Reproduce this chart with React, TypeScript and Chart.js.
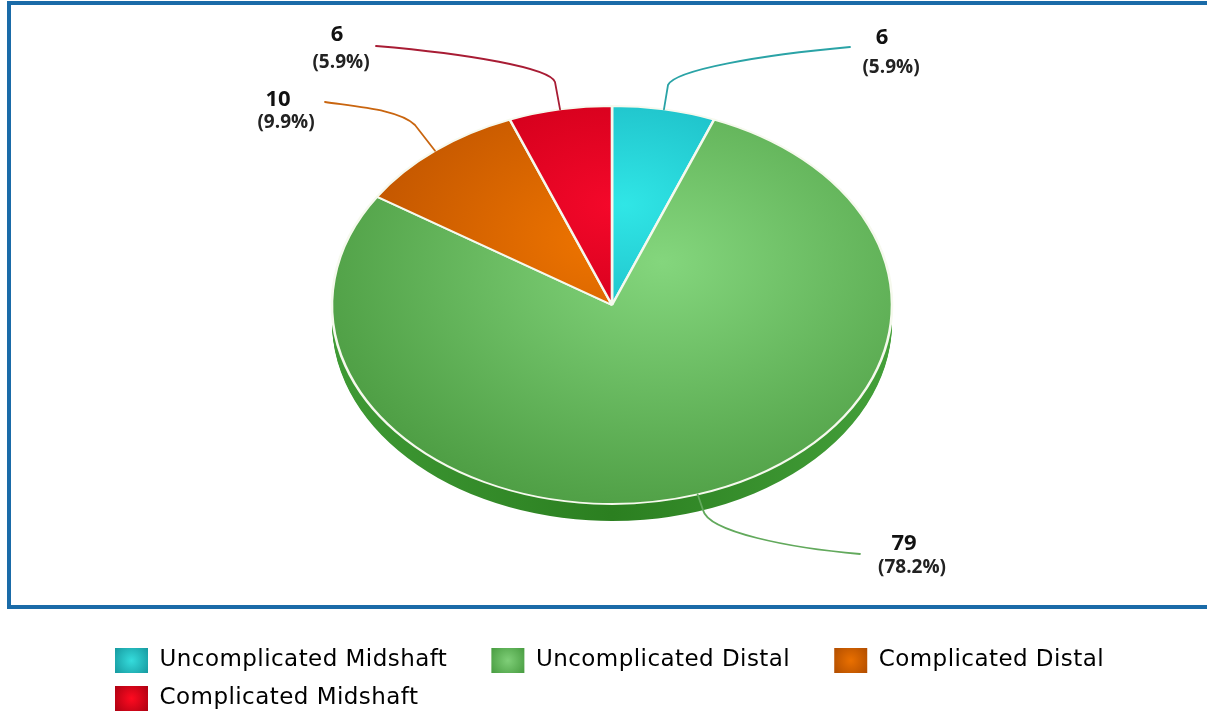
import React, { useEffect, useRef } from "react";
import { Chart, registerables } from "chart.js";

Chart.register(...registerables);

const categories = ["Uncomplicated Midshaft", "Uncomplicated Distal", "Complicated Distal", "Complicated Midshaft"];
const counts = [6, 79, 10, 6];
const percentLabels = ["(5.9%)", "(78.2%)", "(9.9%)", "(5.9%)"];

const lightColors = ["#30e6e6", "#84d67d", "#ee7400", "#f4082a"];
const darkColors = ["#20c4cc", "#4f9f45", "#c25600", "#d4001c"];
const leaderColors = ["#2aa3a6", "#62a95c", "#c9650f", "#a81c34"];
const legendLight = ["#35dcdc", "#7fcf78", "#ea7000", "#ff0a20"];
const legendDark = ["#128f96", "#3f9438", "#a84800", "#a00010"];

const CX = 612;
const CY = 305;
const RX = 280;
const RY = 199;
const DEPTH = 17;

// per-slice gradient focus on screen (px) and its radius
const glowLayout = [
  { at: [624, 205], r: 150 },
  { at: [662, 262], r: 355 },
  { at: [600, 240], r: 245 },
  { at: [612, 205], r: 170 },
];

// leader line: elbow, two bezier controls, end; label anchors (px)
const leaderLayout = [
  { elbow: [668, 85], c1: [675, 70], c2: [760, 55], end: [850, 47], valueAt: [882, 38], pctAt: [891, 68] },
  { elbow: [703, 510], c1: [708, 532], c2: [790, 548], end: [860, 554], valueAt: [904, 544], pctAt: [912, 568] },
  { elbow: [415, 125], c1: [400, 110], c2: [360, 107], end: [325, 102], valueAt: [278, 100], pctAt: [286, 123] },
  { elbow: [555, 82], c1: [550, 68], c2: [470, 54], end: [376, 46], valueAt: [337, 35], pctAt: [341, 63] },
];

const LEGEND_GAP = "\u00A0\u00A0\u00A0\u00A0";
const LEGEND_SPACING = "0.45px";

const placeArc = (ctx: CanvasRenderingContext2D, el: any, dy = 0) => {
  ctx.translate(CX, CY + dy);
  ctx.scale(1, RY / RX);
  ctx.translate(-el.x, -el.y);
};

const pieShape = {
  id: "pieShape",
  beforeLayout(chart: any) {
    chart.ctx.letterSpacing = LEGEND_SPACING;
  },
  beforeDraw(chart: any) {
    const ctx = chart.ctx;
    ctx.save();
    ctx.fillStyle = "#ffffff";
    ctx.fillRect(0, 0, chart.width, chart.height);
    ctx.strokeStyle = "#1a6ba8";
    ctx.lineWidth = 4;
    ctx.strokeRect(9, 3, chart.width + 20, 604);
    ctx.restore();
    ctx.letterSpacing = LEGEND_SPACING;
    const legend = chart.legend;
    legend.legendItems.forEach((item: any, i: number) => {
      const hit = legend.legendHitBoxes[i];
      const bw = legend.options.labels.boxWidth;
      const bh = legend.options.labels.boxHeight;
      const g = ctx.createRadialGradient(hit.left + bw / 2, hit.top + bh / 2, 0, hit.left + bw / 2, hit.top + bh / 2, bw * 0.72);
      g.addColorStop(0, legendLight[i]);
      g.addColorStop(1, legendDark[i]);
      item.fillStyle = g;
    });
  },
  beforeDatasetsDraw(chart: any) {
    const ctx = chart.ctx;
    ctx.letterSpacing = "0px";
    const arcs = chart.getDatasetMeta(0).data;
    const e0 = arcs[0];
    const g = ctx.createLinearGradient(e0.x - RX, 0, e0.x + RX, 0);
    g.addColorStop(0, "#3f9a35");
    g.addColorStop(0.5, "#2b7f20");
    g.addColorStop(1, "#44a03a");
    for (let dy = DEPTH; dy > 0; dy--) {
      arcs.forEach((el: any) => {
        const orig = el.options;
        el.options = { ...orig, backgroundColor: g, borderWidth: 0 };
        ctx.save();
        placeArc(ctx, el, dy);
        el.draw(ctx);
        ctx.restore();
        el.options = orig;
      });
    }
    ctx.save();
    placeArc(ctx, e0);
  },
  afterDatasetsDraw(chart: any) {
    const ctx = chart.ctx;
    ctx.restore();
    const arcs = chart.getDatasetMeta(0).data;
    arcs.forEach((el: any, i: number) => {
      const mid = (el.startAngle + el.endAngle) / 2;
      const ax = CX + RX * Math.cos(mid);
      const ay = CY + RY * Math.sin(mid);
      const lay = leaderLayout[i];
      ctx.save();
      ctx.strokeStyle = leaderColors[i];
      ctx.lineWidth = 1.8;
      ctx.lineCap = "round";
      ctx.beginPath();
      ctx.moveTo(ax, ay);
      ctx.lineTo(lay.elbow[0], lay.elbow[1]);
      ctx.bezierCurveTo(lay.c1[0], lay.c1[1], lay.c2[0], lay.c2[1], lay.end[0], lay.end[1]);
      ctx.stroke();
      ctx.fillStyle = "#111111";
      ctx.textAlign = "center";
      ctx.textBaseline = "middle";
      ctx.font = 'bold 22px "Open Sans"';
      ctx.fillText(String(counts[i]), lay.valueAt[0], lay.valueAt[1]);
      ctx.font = 'bold 19px "Open Sans"';
      ctx.fillStyle = "#222222";
      ctx.fillText(percentLabels[i], lay.pctAt[0], lay.pctAt[1]);
      ctx.restore();
    });
  },
};

export default function App() {
  const ref = useRef<HTMLCanvasElement | null>(null);
  useEffect(() => {
    if (!ref.current) return;
    const chart = new Chart(ref.current, {
      type: "pie",
      data: {
        labels: categories,
        datasets: [
          {
            data: counts,
            clip: false,
            borderColor: "#f6f9ee",
            borderWidth: 2.6,
            backgroundColor: (c: any) => {
              const area = c.chart.chartArea;
              const i = c.dataIndex;
              if (!area) return lightColors[i];
              const x = (area.left + area.right) / 2 + (glowLayout[i].at[0] - CX);
              const y = (area.top + area.bottom) / 2 + ((glowLayout[i].at[1] - CY) * RX) / RY;
              const g = c.chart.ctx.createRadialGradient(x, y, 0, x, y, glowLayout[i].r);
              g.addColorStop(0, lightColors[i]);
              g.addColorStop(1, darkColors[i]);
              return g;
            },
          } as any,
        ],
      },
      options: {
        responsive: false,
        animation: false,
        radius: RX,
        rotation: 0,
        layout: { padding: { left: 102, right: 0, top: 0, bottom: -6 } },
        plugins: {
          tooltip: { enabled: false },
          legend: {
            position: "bottom",
            align: "start",
            labels: {
              boxWidth: 33,
              boxHeight: 25,
              padding: 13,
              color: "#45454d",
              font: { family: '"DejaVu Sans"', size: 23 },
              generateLabels: () =>
                categories.map((text, i) => ({
                  text: text + LEGEND_GAP,
                  fillStyle: legendLight[i],
                  strokeStyle: "transparent",
                  lineWidth: 0,
                  hidden: false,
                  index: i,
                })),
            },
          },
        },
      } as any,
      plugins: [pieShape],
    });
    return () => chart.destroy();
  }, []);
  return (
    <div style={{ position: "absolute", left: 0, top: 0, width: 1207, height: 715, overflow: "hidden", background: "#fff" }}>
      <canvas ref={ref} width={1207} height={715} style={{ display: "block" }} />
    </div>
  );
}
